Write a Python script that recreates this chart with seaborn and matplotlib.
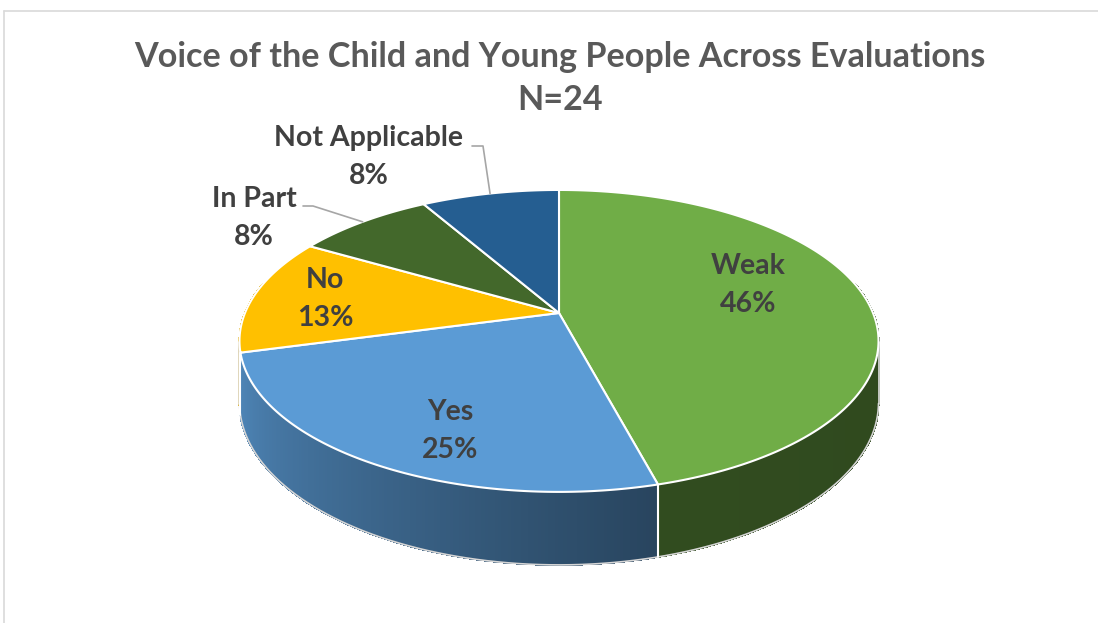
import numpy as np
import matplotlib
matplotlib.use("Agg")
import matplotlib.pyplot as plt
import seaborn as sns
from matplotlib.collections import PolyCollection
from matplotlib.patches import Polygon
import matplotlib.colors as mcolors

# ---------------- data ----------------
categories = ["Weak", "Yes", "No", "In Part", "Not Applicable"]
counts = [11, 6, 3, 2, 2]
colors = ["#70AD47", "#5B9BD5", "#FFC000", "#43682B", "#255E91"]
title_lines = ["Voice of the Child and Young People Across Evaluations", "N=24"]

# ---------------- style ----------------
sns.set_theme(style="white")
plt.rcParams['font.family'] = ['Lato', 'DejaVu Sans']

W, H = 1098, 623
fig = plt.figure(figsize=(W / 100, H / 100), dpi=100)
ax = fig.add_axes([0, 0, 1, 1])
ax.set_xlim(0, W)
ax.set_ylim(H, 0)
ax.axis('off')

# perspective projection of a tilted disc (layout constants)
CX, CY = 559, 313
S, T, K, DEPTH = 314, 145.8, 0.185, 59.5


def proj(theta_deg, r=1.0, z=0.0):
    th = np.radians(theta_deg)
    u = r * np.cos(th)
    v = r * np.sin(th)
    w = 1 + K * v
    return CX + S * u / w, CY - T * v / w + DEPTH * z / w


total = sum(counts)
fracs = np.array(counts) / total
cum = np.cumsum(fracs) * 360
ends = 90 - cum
starts = np.concatenate([[90], ends[:-1]])


def slice_of(theta):
    c = (90 - theta) % 360
    return int(np.clip(np.searchsorted(cum, c, side='right'), 0, len(counts) - 1))


def shade(theta):
    return np.interp(theta, [-165, -75, 0], [0.87, 0.44, 0.42])


# ---------------- side wall ----------------
step = 0.5
thetas = np.arange(-192, 12, step)
quads, fcols, keys = [], [], []
for t0 in thetas:
    t1 = t0 + step
    tm = (t0 + t1) / 2
    i = slice_of(tm)
    base = np.array(mcolors.to_rgb(colors[i]))
    col = np.clip(base * shade(tm), 0, 1)
    x0, y0 = proj(t0)
    x1, y1 = proj(t1)
    bx0, by0 = proj(t0, z=1)
    bx1, by1 = proj(t1, z=1)
    quads.append([(x0, y0), (x1, y1), (bx1, by1), (bx0, by0)])
    fcols.append(col)
    keys.append(np.sin(np.radians(tm)))
order = np.argsort(keys)[::-1]
pc = PolyCollection([quads[j] for j in order], facecolors=[fcols[j] for j in order],
                    edgecolors=[fcols[j] for j in order], linewidths=0.8,
                    antialiased=False, zorder=1)
ax.add_collection(pc)

# side outline
tb = np.linspace(-169, -11, 300)
bx, by = proj(tb, z=1)
ax.plot(bx, by, color="#d6d6d6", lw=1.2, zorder=2)
for tt in (-169, -11):
    x0, y0 = proj(tt)
    x1, y1 = proj(tt, z=1)
    ax.plot([x0, x1], [y0, y1], color="#e0e0e0", lw=1.2, zorder=2)
# slice boundaries on the side wall
for b in ends:
    bb = ((b + 180) % 360) - 180
    if -169 < bb < -11:
        x0, y0 = proj(bb)
        x1, y1 = proj(bb, z=1)
        ax.plot([x0, x1], [y0, y1], color="white", lw=1.5, zorder=2)

# ---------------- top face ----------------
for i in range(len(counts)):
    arc = np.linspace(starts[i], ends[i], 200)
    ax_, ay_ = proj(arc)
    pts = [(CX, CY)] + list(zip(ax_, ay_))
    ax.add_patch(Polygon(pts, closed=True, facecolor=colors[i], edgecolor="white",
                         lw=1.5, joinstyle='round', zorder=3))

# ---------------- labels ----------------
label_color = "#404040"
label_pos = {"Weak": (748, 266), "Yes": (450, 412), "No": (325, 280),
             "In Part": (254, 199), "Not Applicable": (369, 138)}
line_gap = 38
fs = 20.5
for i, name in enumerate(categories):
    pct = int(np.floor(counts[i] / total * 100 + 0.5))
    x, y = label_pos[name]
    ax.text(x, y, name, ha='center', va='center', fontsize=fs, fontweight='bold',
            color=label_color, zorder=5)
    ax.text(x, y + line_gap, f"{pct}%", ha='center', va='center', fontsize=fs,
            fontweight='bold', color=label_color, zorder=5)

# leader lines for outside labels (to slice mid-angle on rim)
leaders = {"Not Applicable": (472, 483, 146), "In Part": (303, 313, 206)}
for name, (xa, xb, yl) in leaders.items():
    i = categories.index(name)
    mid = (starts[i] + ends[i]) / 2
    ex, ey = proj(mid)
    ax.plot([xa, xb, ex], [yl, yl, ey], color="#a6a6a6", lw=1.2, zorder=4)

# ---------------- title ----------------
t1 = ax.text(560, 57, title_lines[0], ha='center', va='center', fontsize=24,
             fontweight='bold', color="#595959")
fig.canvas.draw()
bb = t1.get_window_extent()
t1.set_fontsize(24 * 850 / bb.width)
ax.text(560, 100, title_lines[1], ha='center', va='center', fontsize=t1.get_fontsize(),
        fontweight='bold', color="#595959")

# chart area border
ax.plot([3.5, W], [10.5, 10.5], color="#d9d9d9", lw=1.2, zorder=0)
ax.plot([3.5, 3.5], [10.5, H], color="#d9d9d9", lw=1.2, zorder=0)

fig.savefig("out.png", dpi=100, facecolor="white")
